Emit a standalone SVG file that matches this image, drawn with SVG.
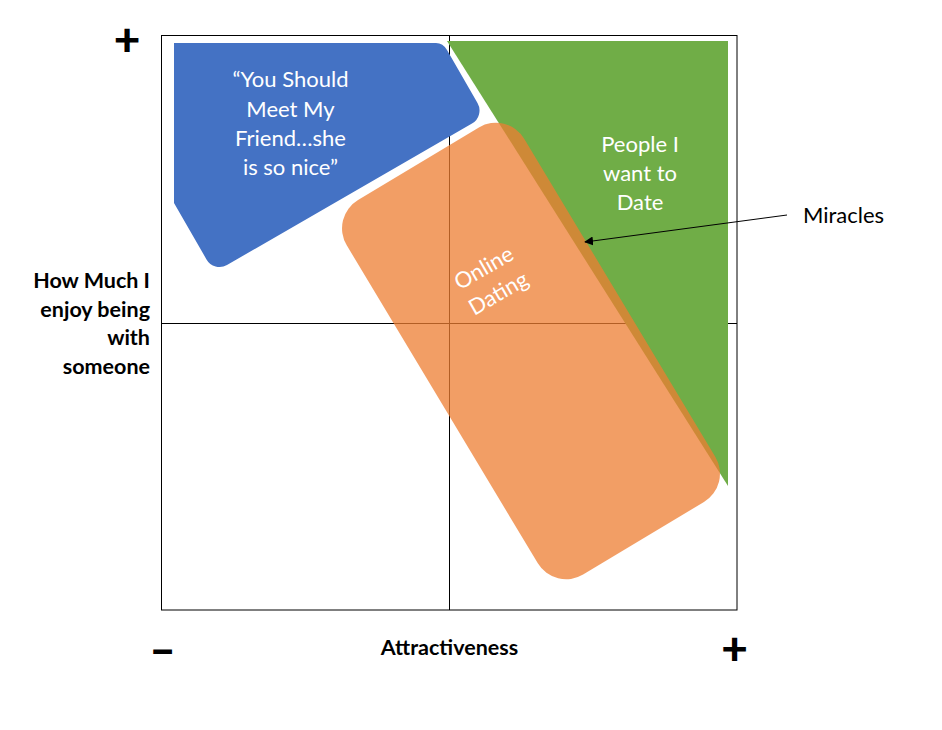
<svg xmlns="http://www.w3.org/2000/svg" width="942" height="730" viewBox="0 0 942 730">
<style>
.axis{stroke:#000;stroke-width:1;fill:none}
.lbl{font-family:Lato,"Liberation Sans",sans-serif;font-weight:bold;font-size:21.5px;fill:#000}
.wt{font-family:Lato,"Liberation Sans",sans-serif;font-size:22px;fill:#fff;text-anchor:middle}
.sign{font-family:Lato,"Liberation Sans",sans-serif;font-weight:900;font-size:46px;fill:#000;text-anchor:middle}
.conn{stroke:#000;stroke-width:1;fill:none}
</style>
<defs>
<marker id="ah" viewBox="0 0 10 10" refX="9" refY="5" markerWidth="9" markerHeight="9" markerUnits="userSpaceOnUse" orient="auto">
<path d="M0,0 L10,5 L0,10 Z" fill="#000"/>
</marker>
</defs>
<rect width="942" height="730" fill="#fff"/>
<g id="axes">
<rect class="axis" x="161.5" y="35.5" width="575.5" height="574.5"/>
<line class="axis" x1="449.5" y1="35.5" x2="449.5" y2="610"/>
<line class="axis" x1="161.5" y1="323.5" x2="737" y2="323.5"/>
</g>
<g id="people-i-want-to-date">
<polygon points="447,41 728,41 728,486" fill="#70AD47"/>
<text class="wt" x="640" y="151.7">People I</text>
<text class="wt" x="640" y="181">want to</text>
<text class="wt" x="640" y="210.3">Date</text>
</g>
<g id="you-should-meet-my-friend">
<path d="M174,43 H436 Q443,43 447,50 L477.5,103 A15,15 0 0 1 472,123.5 L227,265 A15,15 0 0 1 206.5,259.4 L174,203 Z" fill="#4472C4"/>
<text class="wt" x="290.5" y="87.3">“You Should</text>
<text class="wt" x="290.5" y="116.6">Meet My</text>
<text class="wt" x="290.5" y="145.9">Friend…she</text>
<text class="wt" x="290.5" y="175.2">is so nice”</text>
</g>
<g id="online-dating">
<rect x="-218.5" y="-103.5" width="437" height="207" rx="33" fill="#ED7D31" fill-opacity="0.75" transform="translate(531,351) rotate(59)"/>
<g transform="translate(491,280.5) rotate(-30)">
<text class="wt" x="0" y="-7">Online</text>
<text class="wt" x="0" y="22.3">Dating</text>
</g>
</g>
<g id="miracles">
<text x="803" y="222.7" style="font-family:Lato,'Liberation Sans',sans-serif;font-size:22px;fill:#000">Miracles</text>
</g>
<g id="connectors">
<line class="conn" x1="787" y1="215" x2="585" y2="242" marker-end="url(#ah)"/>
</g>
<g id="axis-labels">
<text class="lbl" x="150" y="288.3" text-anchor="end">How Much I</text>
<text class="lbl" x="150" y="316.8" text-anchor="end">enjoy being</text>
<text class="lbl" x="150" y="345.3" text-anchor="end">with</text>
<text class="lbl" x="150" y="373.8" text-anchor="end">someone</text>
<text class="lbl" x="449.5" y="655" text-anchor="middle">Attractiveness</text>
<text class="sign" x="127" y="56">+</text>
<text class="sign" x="734.5" y="664.5">+</text>
<text class="sign" x="162.5" y="665.5">–</text>
</g>
</svg>
